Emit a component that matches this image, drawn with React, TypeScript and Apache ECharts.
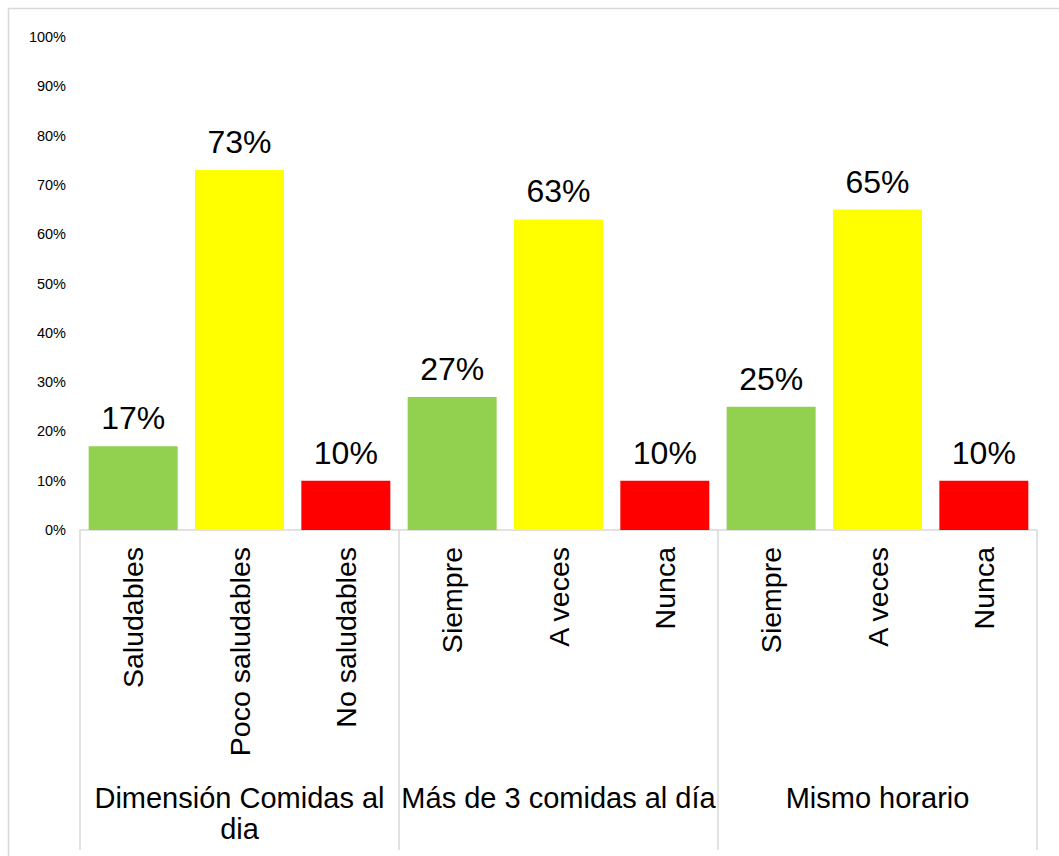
import React, { useEffect, useRef } from "react";
import * as echarts from "echarts";

const categories = [
  "Saludables",
  "Poco saludables",
  "No saludables",
  "Siempre",
  "A veces",
  "Nunca",
  "Siempre",
  "A veces",
  "Nunca",
];
const values = [17, 73, 10, 27, 63, 10, 25, 65, 10];
const barColors = [
  "#92d050",
  "#ffff00",
  "#ff0000",
  "#92d050",
  "#ffff00",
  "#ff0000",
  "#92d050",
  "#ffff00",
  "#ff0000",
];
const groups = ["Dimensión Comidas al dia", "Más de 3 comidas al día", "Mismo horario"];
const yTicks = { min: 0, max: 100, interval: 10 };

const FONT = "'Liberation Sans', Arial, sans-serif";

function wrapGroup(v: string): string {
  if (v.length <= 23) return v;
  const i = v.lastIndexOf(" ");
  return v.slice(0, i) + "\n" + v.slice(i + 1);
}

export default function App() {
  const ref = useRef<HTMLDivElement>(null);
  useEffect(() => {
    if (!ref.current) return;
    const chart = echarts.init(ref.current, null, { renderer: "svg" });
    chart.setOption({
      animation: false,
      backgroundColor: "#fff",
      textStyle: { fontFamily: FONT },
      graphic: [
        {
          type: "rect",
          shape: { x: 8.5, y: 8.5, width: 1200, height: 1000 },
          style: { fill: "none", stroke: "#d9d9d9", lineWidth: 1.5 },
          silent: true,
        },
      ],
      grid: { left: 80, right: 22, top: 37, bottom: 326, containLabel: false },
      xAxis: [
        {
          type: "category",
          data: categories,
          position: "bottom",
          axisLine: { show: true, lineStyle: { color: "#d9d9d9", width: 1.5 } },
          axisTick: { show: false },
          axisLabel: {
            rotate: 90,
            interval: 0,
            margin: 17,
            fontSize: 28.5,
            color: "#000",
            fontFamily: FONT,
          },
        },
        {
          type: "category",
          data: groups,
          position: "bottom",
          axisLine: { show: false },
          axisTick: {
            show: true,
            interval: 0,
            length: 320,
            lineStyle: { color: "#d9d9d9", width: 1.5 },
          },
          axisLabel: {
            interval: 0,
            margin: 252,
            fontSize: 29,
            lineHeight: 31,
            color: "#000",
            fontFamily: FONT,
            align: "center",
            formatter: (v: string) => wrapGroup(v),
          },
        },
      ],
      yAxis: {
        type: "value",
        min: yTicks.min,
        max: yTicks.max,
        interval: yTicks.interval,
        axisLine: { show: false },
        axisTick: { show: false },
        splitLine: { show: false },
        axisLabel: {
          formatter: "{value}%",
          fontSize: 14.5,
          margin: 14,
          color: "#000",
          fontFamily: FONT,
        },
      },
      series: [
        {
          type: "bar",
          xAxisIndex: 0,
          barWidth: 89,
          data: values.map((v, i) => ({ value: v, itemStyle: { color: barColors[i] } })),
          label: {
            show: true,
            position: "top",
            distance: 12,
            formatter: "{c}%",
            fontSize: 32,
            color: "#000",
            fontFamily: FONT,
          },
        },
      ],
    });
    return () => chart.dispose();
  }, []);
  return (
    <div
      ref={ref}
      style={{ position: "fixed", left: 0, top: 0, width: 1059, height: 856 }}
    />
  );
}
